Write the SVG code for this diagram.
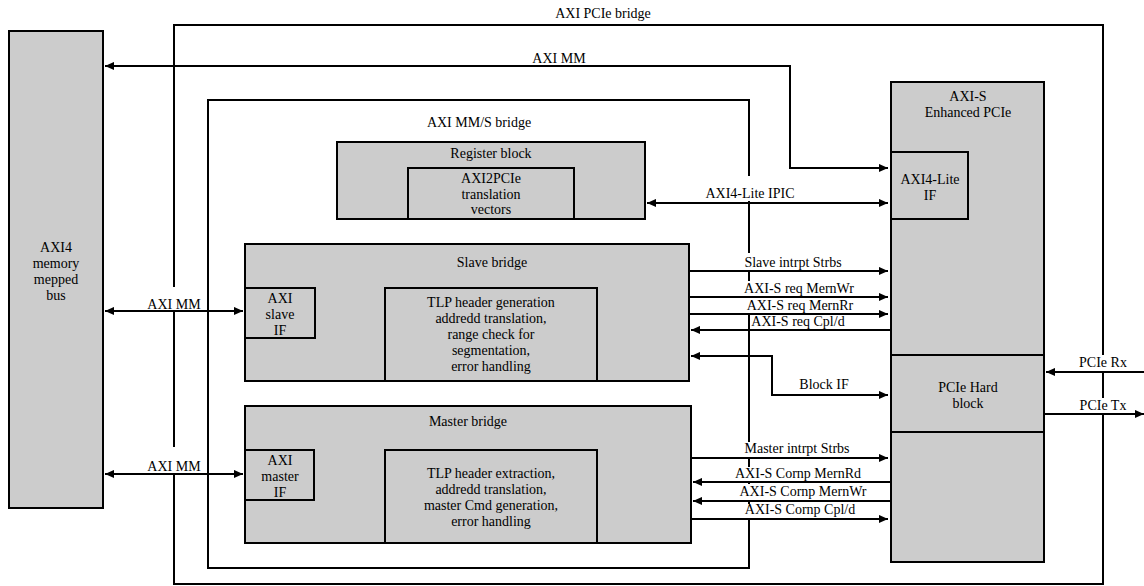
<svg xmlns="http://www.w3.org/2000/svg" width="1144" height="586" viewBox="0 0 1144 586">
<style>
text{font-family:"Liberation Serif","Times New Roman",serif;font-size:14px;fill:#000;text-anchor:middle}
.box{fill:#cccccc;stroke:#000;stroke-width:2}
.frame{fill:none;stroke:#000;stroke-width:2}
.ln{fill:none;stroke:#000;stroke-width:2}
.bg{fill:#fff;stroke:none}
.c1{marker-end:url(#ah)}
.c2{marker-start:url(#ah);marker-end:url(#ah)}
</style>
<defs>
<marker id="ah" viewBox="0 0 10 10" refX="10" refY="5" markerWidth="10" markerHeight="9" markerUnits="userSpaceOnUse" orient="auto-start-reverse">
<path d="M0,0.5 L10,5 L0,9.5 z" fill="#000"/>
</marker>
</defs>
<rect width="1144" height="586" fill="#fff"/>

<g id="axi-pcie-bridge">
<rect class="frame" x="174" y="25" width="929" height="559"/>
<text x="603" y="18">AXI PCIe bridge</text>
</g>

<g id="axi-mms-bridge">
<rect class="frame" x="208" y="100" width="541" height="468"/>
<text x="479" y="127">AXI MM/S bridge</text>
</g>

<g id="label-backgrounds">
<rect class="bg" x="146" y="287" width="56" height="23"/>
<rect class="bg" x="146" y="447" width="56" height="26"/>
<rect class="bg" x="705" y="176" width="90" height="25"/>
<rect class="bg" x="745" y="253" width="97" height="17"/>
<rect class="bg" x="744" y="281" width="110" height="15"/>
<rect class="bg" x="745" y="298" width="108" height="15"/>
<rect class="bg" x="744" y="442" width="106" height="15"/>
<rect class="bg" x="744" y="467" width="110" height="14"/>
<rect class="bg" x="740" y="484" width="127" height="16"/>
<rect class="bg" x="745" y="504" width="110" height="14"/>
<rect class="bg" x="1078" y="355" width="51" height="16"/>
<rect class="bg" x="1078" y="398" width="51" height="15"/>
</g>

<g id="connectors">
<path class="ln c2" d="M105,66 H790 V168 H888"/>
<path class="ln c2" d="M105,311 H243"/>
<path class="ln c2" d="M105,474 H243"/>
<path class="ln c2" d="M647,203 H888"/>
<path class="ln c1" d="M689,271 H888"/>
<path class="ln c1" d="M689,297 H888"/>
<path class="ln c1" d="M689,314 H888"/>
<path class="ln c1" d="M891,330 H691"/>
<path class="ln c2" d="M691,356 H772 V395 H888"/>
<path class="ln c1" d="M1144,372 H1046"/>
<path class="ln c1" d="M1044,414 H1144"/>
<path class="ln c1" d="M691,458 H888"/>
<path class="ln c1" d="M891,482 H693"/>
<path class="ln c1" d="M891,501 H693"/>
<path class="ln c1" d="M691,519 H888"/>
<text x="559" y="63">AXI MM</text>
<text x="174" y="309">AXI MM</text>
<text x="174" y="471">AXI MM</text>
<text x="750" y="198">AXI4-Lite IPIC</text>
<text x="793" y="267">Slave intrpt Strbs</text>
<text x="799" y="293">AXI-S req MernWr</text>
<text x="800" y="310">AXI-S req MernRr</text>
<text x="798" y="326">AXI-S req Cpl/d</text>
<text x="824" y="389">Block IF</text>
<text x="1103" y="367">PCIe Rx</text>
<text x="1103" y="410">PCIe Tx</text>
<text x="797" y="453">Master intrpt Strbs</text>
<text x="798" y="478">AXI-S Cornp MernRd</text>
<text x="803" y="496">AXI-S Cornp MernWr</text>
<text x="800" y="514">AXI-S Cornp Cpl/d</text>
</g>

<g id="axi4-bus">
<rect class="box" x="9" y="31" width="94" height="477"/>
<text x="56" y="252">AXI4</text>
<text x="56" y="268">memory</text>
<text x="56" y="284">mepped</text>
<text x="56" y="300">bus</text>
</g>

<g id="register-block">
<rect class="box" x="337" y="142" width="308" height="77"/>
<text x="491" y="158">Register block</text>
</g>
<g id="axi2pcie-vectors">
<rect class="box" x="408" y="168" width="166" height="51"/>
<text x="491" y="183">AXI2PCIe</text>
<text x="491" y="199">translation</text>
<text x="491" y="214">vectors</text>
</g>

<g id="slave-bridge">
<rect class="box" x="245" y="244" width="444" height="137"/>
<text x="492" y="267">Slave bridge</text>
</g>
<g id="axi-slave-if">
<rect class="box" x="245" y="288" width="70" height="50"/>
<text x="280" y="303">AXI</text>
<text x="280" y="319">slave</text>
<text x="280" y="335">IF</text>
</g>
<g id="tlp-generation">
<rect class="box" x="385" y="288" width="212" height="93"/>
<text x="491" y="307">TLP header generation</text>
<text x="491" y="323">addredd translation,</text>
<text x="491" y="339">range check for</text>
<text x="491" y="355">segmentation,</text>
<text x="491" y="371">error handling</text>
</g>

<g id="master-bridge">
<rect class="box" x="245" y="406" width="446" height="137"/>
<text x="468" y="426">Master bridge</text>
</g>
<g id="axi-master-if">
<rect class="box" x="245" y="450" width="69" height="50"/>
<text x="280" y="465">AXI</text>
<text x="280" y="481">master</text>
<text x="280" y="497">IF</text>
</g>
<g id="tlp-extraction">
<rect class="box" x="385" y="450" width="212" height="93"/>
<text x="491" y="478">TLP header extraction,</text>
<text x="491" y="494">addredd translation,</text>
<text x="491" y="510">master Cmd generation,</text>
<text x="491" y="526">error handling</text>
</g>

<g id="axis-enhanced-pcie">
<rect class="box" x="891" y="82" width="153" height="480"/>
<line class="ln" x1="891" y1="355" x2="1044" y2="355"/>
<line class="ln" x1="891" y1="432" x2="1044" y2="432"/>
<text x="968" y="101">AXI-S</text>
<text x="968" y="117">Enhanced PCIe</text>
</g>
<g id="axi4-lite-if">
<rect class="box" x="891" y="152" width="77" height="67"/>
<text x="930" y="184">AXI4-Lite</text>
<text x="930" y="200">IF</text>
</g>
<g id="pcie-hard-block">
<text x="968" y="392">PCIe Hard</text>
<text x="968" y="408">block</text>
</g>
</svg>
